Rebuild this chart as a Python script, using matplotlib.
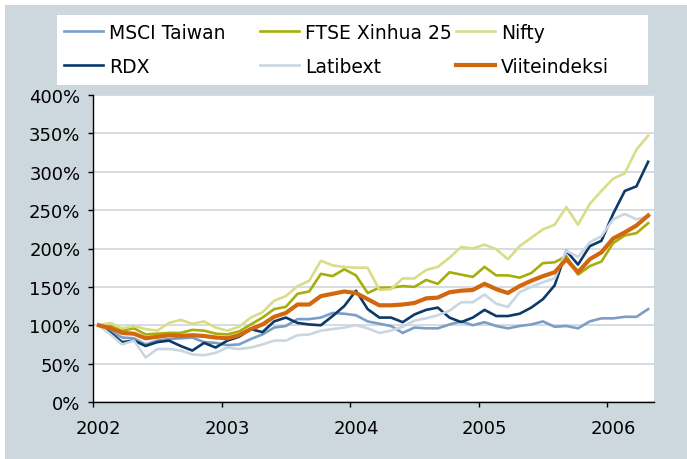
import matplotlib
matplotlib.use('Agg')
import matplotlib.pyplot as plt
from matplotlib.patches import Rectangle
import numpy as np

plt.rcParams['font.family'] = ['DejaVu Sans']

# ---- data (index values, %; 48 observations, 11 per year label) ----
year_labels = ['2002', '2003', '2004', '2005', '2006']
points_per_label = 11

msci_taiwan = [100, 92, 84, 83, 75, 80, 82, 83, 84, 78, 77, 74,
               75, 82, 88, 97, 99, 108, 108, 110, 116, 115, 113, 105,
               102, 99, 90, 97, 96, 96, 101, 105, 100, 104, 99, 96,
               99, 101, 105, 98, 99, 96, 105, 109, 109, 111, 111, 121]
ftse_xinhua = [100, 99, 93, 96, 88, 89, 90, 90, 94, 93, 89, 88,
               92, 101, 110, 121, 124, 141, 144, 167, 164, 173, 165, 142,
               149, 149, 151, 150, 159, 154, 169, 166, 163, 176, 165, 165,
               162, 168, 181, 182, 190, 166, 177, 183, 207, 217, 220, 233]
nifty = [100, 103, 96, 99, 95, 93, 103, 107, 102, 105, 97, 93,
         98, 110, 117, 132, 138, 151, 158, 184, 178, 176, 175, 175,
         146, 147, 161, 161, 172, 176, 188, 202, 200, 205, 199, 186,
         203, 214, 225, 231, 254, 231, 258, 275, 291, 298, 329, 347]
rdx = [100, 90, 78, 80, 73, 78, 80, 73, 67, 77, 71, 80,
       85, 95, 91, 105, 110, 103, 101, 100, 112, 125, 145, 121,
       110, 110, 104, 114, 120, 123, 110, 104, 110, 120, 112, 112,
       115, 123, 134, 152, 197, 179, 203, 210, 245, 275, 281, 313]
latibext = [100, 88, 75, 80, 58, 69, 69, 67, 62, 61, 64, 71,
            69, 71, 75, 80, 80, 87, 88, 93, 95, 97, 100, 96,
            90, 93, 98, 106, 109, 113, 119, 130, 130, 140, 128, 124,
            143, 150, 156, 161, 197, 189, 208, 216, 238, 245, 238, 242]
viiteindeksi = [100, 96, 90, 89, 83, 85, 87, 86, 87, 86, 84, 83,
                87, 95, 101, 111, 116, 127, 127, 138, 141, 144, 142, 134,
                126, 126, 127, 129, 135, 136, 143, 145, 146, 154, 147, 142,
                151, 158, 164, 169, 186, 169, 186, 195, 213, 221, 230, 243]

series = [
    ('MSCI Taiwan', msci_taiwan, '#7B9DC6', 1.9),
    ('FTSE Xinhua 25', ftse_xinhua, '#A6AF0A', 1.9),
    ('Nifty', nifty, '#D9DD88', 1.9),
    ('RDX', rdx, '#0B3A68', 1.9),
    ('Latibext', latibext, '#CAD6E0', 1.9),
    ('Viiteindeksi', viiteindeksi, '#D2670E', 3.0),
]

BG = '#CDD7DE'
W, H = 687, 460

fig = plt.figure(figsize=(W / 100, H / 100), dpi=100, facecolor='white')
fig.patches.append(Rectangle((5 / W, 0), 1, (H - 6) / H, transform=fig.transFigure,
                             facecolor=BG, edgecolor='none', zorder=-10))
fig.patches.append(Rectangle((57 / W, 1 - 86 / H), (648 - 57) / W, (86 - 16) / H,
                             transform=fig.transFigure, facecolor='white',
                             edgecolor='none', zorder=-5))

ax = fig.add_axes([93 / W, 1 - 403 / H, (654 - 93) / W, (403 - 96) / H])
ax.set_facecolor('white')

n = len(viiteindeksi)
x = np.arange(n) + 0.5
handles = {}
for name, vals, col, lw in series:
    h, = ax.plot(x, vals, color=col, lw=lw, label=name, solid_joinstyle='round',
                 zorder=3)
    handles[name] = h

ax.set_xlim(0, n)
ax.set_ylim(0, 400)
ax.set_yticks(np.arange(0, 401, 50))
ax.set_yticklabels([f'{v}%' for v in range(0, 401, 50)])
major = [k * points_per_label for k in range(len(year_labels))]
ax.set_xticks(major)
ax.set_xticklabels([''] * len(major))
ax.set_xticks([m + 0.5 for m in major], minor=True)
ax.set_xticklabels(year_labels, minor=True)

ax.tick_params(axis='y', which='major', length=3.6, width=1, pad=5.5,
               labelsize=13, colors='black', direction='out')
ax.tick_params(axis='x', which='major', length=3.6, width=1, direction='out')
ax.tick_params(axis='x', which='minor', length=0, pad=12, labelsize=13,
               colors='black')

for side in ['top', 'right']:
    ax.spines[side].set_visible(False)
for side in ['left', 'bottom']:
    ax.spines[side].set_color('black')
    ax.spines[side].set_linewidth(1.0)
    ax.spines[side].set_zorder(4)

ax.yaxis.grid(True, color=BG, lw=1.2)
ax.set_axisbelow(True)

fs = 13.5
leg_cols = [(64, ['MSCI Taiwan', 'RDX']),
            (260, ['FTSE Xinhua 25', 'Latibext']),
            (456, ['Nifty', 'Viiteindeksi'])]
for xpos, names in leg_cols:
    leg = fig.legend(handles=[handles[nm] for nm in names], labels=names,
                     loc='upper left', bbox_to_anchor=(xpos / W, 1 - 24 / H),
                     bbox_transform=fig.transFigure, frameon=False,
                     borderpad=0, borderaxespad=0, fontsize=fs,
                     handlelength=2.1, handletextpad=0.3, labelspacing=0.78)

fig.savefig('out.png', dpi=100, facecolor=fig.get_facecolor())
